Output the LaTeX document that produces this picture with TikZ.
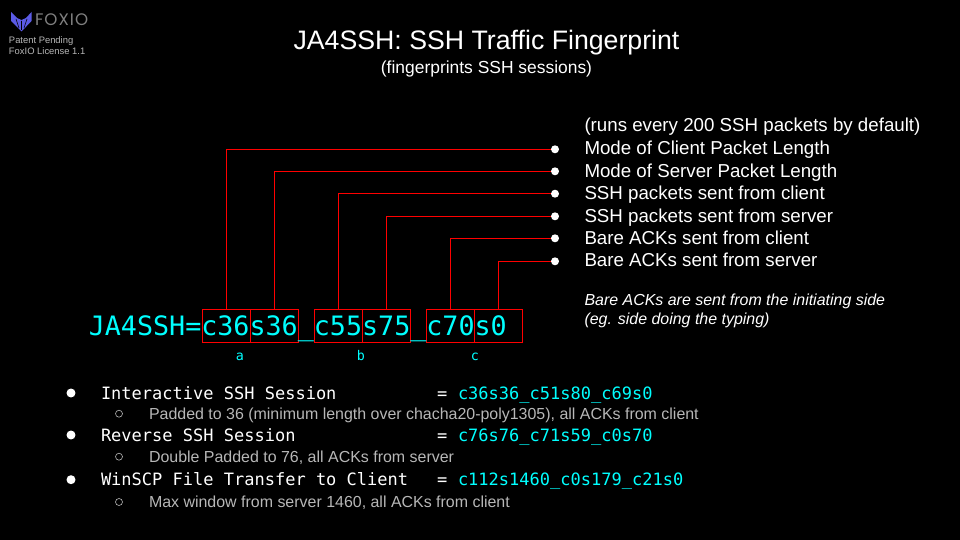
\documentclass[tikz,border=0pt]{standalone}
\usepackage{fontspec}
\setmainfont{Liberation Sans}
\setmonofont{DejaVu Sans Mono}
\newfontfamily\logofont[LetterSpace=6]{Poppins}
\usetikzlibrary{positioning}
\definecolor{jacyan}{HTML}{00FFFF}
\definecolor{jared}{HTML}{FF0000}
\definecolor{jagray}{HTML}{B7B7B7}
\definecolor{jalogo}{HTML}{5B5BE6}
\tikzset{
    every node/.style={inner sep=0pt, outer sep=0pt, text=white},
    fieldbox/.style={draw=jared, line width=0.6pt, minimum width=0.96cm, minimum height=0.65cm},
    wire/.style={draw=jared, line width=0.6pt},
    enddot/.style={circle, fill=white, minimum size=0.16cm},
    rowtext/.style={anchor=base west, font=\fontsize{10.65pt}{12pt}\selectfont},
    notetext/.style={anchor=base west, font=\itshape\fontsize{9.08pt}{10pt}\selectfont},
    sublabel/.style={anchor=base, text=jacyan, font=\ttfamily\fontsize{7.6pt}{8pt}\selectfont},
    itemname/.style={anchor=base west, text=white, font=\ttfamily\fontsize{9.68pt}{12pt}\selectfont},
    itemvalue/.style={anchor=base west, text=jacyan, font=\ttfamily\fontsize{9.68pt}{12pt}\selectfont},
    itemnote/.style={anchor=base west, text=jagray, font=\fontsize{9.08pt}{12pt}\selectfont},
    bigdot/.style={circle, fill=white, minimum size=0.18cm},
    smalldot/.style={circle, draw=jagray, line width=0.35pt, minimum size=0.14cm}
}
\begin{document}
\begin{tikzpicture}[x=0.02cm, y=-0.02cm]
    \fill[black] (0,0) rectangle (960,540);
    \useasboundingbox (0,0) rectangle (960,540);

    % Logo
    \fill[jalogo] (11,12) -- (17,18) -- (21.5,20) -- (26,18) -- (31.5,12) -- (31.5,21) -- (21.5,31.5) -- (11,21) -- cycle;
    \draw[black, line width=0.3pt] (16,19) -- (19,28) (21.5,21) -- (21.5,30) (27,19) -- (24,28);
    \node [anchor=base west, text=gray, font=\logofont\fontsize{9.5pt}{10pt}\selectfont] (logotext) at (35,26) {FOXIO};
    \node [anchor=base west, text=jagray, font=\fontsize{5.35pt}{6pt}\selectfont] (patent) at (9,44) {Patent Pending};
    \node [anchor=base west, text=jagray, font=\fontsize{5.35pt}{6pt}\selectfont] (licence) at (9,55) {FoxIO License 1.1};

    % Title
    \node [anchor=base, font=\fontsize{15.2pt}{18pt}\selectfont] (title) at (486.5,50) {JA4SSH: SSH Traffic Fingerprint};
    \node [anchor=base, font=\fontsize{9.92pt}{12pt}\selectfont] (subtitle) at (486.5,73.5) {(fingerprints SSH sessions)};

    % Right hand list
    \node [rowtext] (runs) at (584.5,132) {(runs every 200 SSH packets by default)};
    \node [rowtext] (t1) at (584.5,154.8) {Mode of Client Packet Length};
    \node [rowtext] (t2) at (584.5,177.2) {Mode of Server Packet Length};
    \node [rowtext] (t3) at (584.5,199.7) {SSH packets sent from client};
    \node [rowtext] (t4) at (584.5,222.1) {SSH packets sent from server};
    \node [rowtext] (t5) at (584.5,244.4) {Bare ACKs sent from client};
    \node [rowtext] (t6) at (584.5,266.7) {Bare ACKs sent from server};
    \node [notetext] (note1) at (584.5,306) {Bare ACKs are sent from the initiating side};
    \node [notetext] (note2) at (584.5,325) {(eg. side doing the typing)};

    % Dots
    \node [enddot] (d1) at (555,149.3) {};
    \node [enddot] (d2) at (555,171.3) {};
    \node [enddot] (d3) at (555,193.7) {};
    \node [enddot] (d4) at (555,216.3) {};
    \node [enddot] (d5) at (555,238.3) {};
    \node [enddot] (d6) at (555,261.3) {};

    % Fingerprint
    \node [fieldbox] (c36) at (226.3,326) {};
    \node [fieldbox, right=0pt of c36] (s36) {};
    \node [fieldbox] (c55) at (338.3,326) {};
    \node [fieldbox, right=0pt of c55] (s75) {};
    \node [fieldbox] (c70) at (450.3,326) {};
    \node [fieldbox, right=0pt of c70] (s0) {};
    \node [anchor=base west, text=jacyan, font=\ttfamily\fontsize{15.2pt}{18pt}\selectfont] (print) at (88.8,335.5) {JA4SSH=c36s36\_c55s75\_c70s0};

    \node [sublabel] (a) at (240,360) {a};
    \node [sublabel] (b) at (361,360) {b};
    \node [sublabel] (c) at (475,360) {c};

    % Wires
    \draw[wire] (c36.north) |- (d1);
    \draw[wire] (s36.north) |- (d2);
    \draw[wire] (c55.north) |- (d3);
    \draw[wire] (s75.north) |- (d4);
    \draw[wire] (c70.north) |- (d5);
    \draw[wire] (s0.north) |- (d6);

    % Sessions
    \node [bigdot] (b1) at (71,393) {};
    \node [itemname] (i1) at (101,399.2) {Interactive SSH Session};
    \node [itemname] (e1) at (437,399.2) {=};
    \node [itemvalue] (v1) at (458,399.2) {c36s36\_c51s80\_c69s0};
    \node [smalldot] (s1) at (119,413.7) {};
    \node [itemnote] (n1) at (149,419) {Padded to 36 (minimum length over chacha20-poly1305), all ACKs from client};

    \node [bigdot] (b2) at (71,435) {};
    \node [itemname] (i2) at (101,441) {Reverse SSH Session};
    \node [itemname] (e2) at (437,441) {=};
    \node [itemvalue] (v2) at (458,441) {c76s76\_c71s59\_c0s70};
    \node [smalldot] (s2) at (119,456.7) {};
    \node [itemnote] (n2) at (149,462.5) {Double Padded to 76, all ACKs from server};

    \node [bigdot] (b3) at (71,479.7) {};
    \node [itemname] (i3) at (101,485.5) {WinSCP File Transfer to Client};
    \node [itemname] (e3) at (437,485.5) {=};
    \node [itemvalue] (v3) at (458,485.5) {c112s1460\_c0s179\_c21s0};
    \node [smalldot] (s3) at (119,502) {};
    \node [itemnote] (n3) at (149,507.5) {Max window from server 1460, all ACKs from client};
\end{tikzpicture}
\end{document}
